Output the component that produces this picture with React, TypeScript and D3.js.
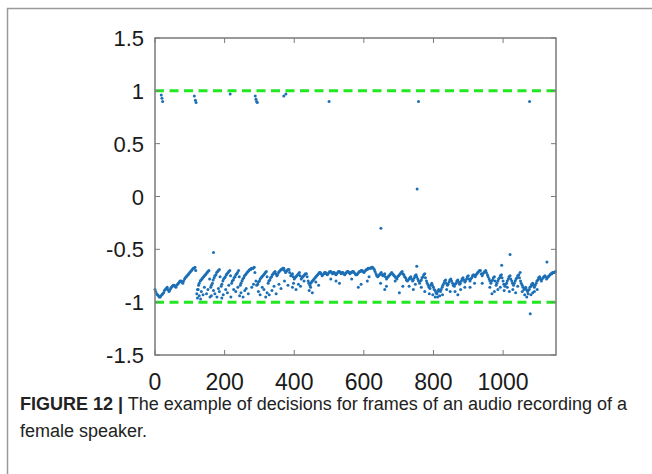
import React from "react";
import * as d3 from "d3";

// decision values of the main band, one every 5 frames (frames 0..1150)
const bandStep = 5;
const bandValues = [
  -0.88, -0.92, -0.94, -0.95, -0.93, -0.91, -0.88, -0.86, -0.9, -0.87, -0.85, -0.84, -0.86, -0.83, -0.81, -0.8, -0.82, -0.78, -0.76, -0.74, -0.72, -0.7, -0.68, -0.67,
  -0.92, -0.84, -0.8, -0.78, -0.76, -0.74, -0.72, -0.7, -0.86, -0.82, -0.77, -0.74, -0.71, -0.69, -0.85, -0.8,
  -0.77, -0.74, -0.72, -0.7, -0.82, -0.79, -0.76, -0.73, -0.7, -0.84, -0.8, -0.77, -0.74, -0.72, -0.7, -0.69, -0.68, -0.67, -0.8, -0.83,
  -0.8, -0.77, -0.75, -0.73, -0.71, -0.82, -0.79, -0.76, -0.73, -0.71, -0.75, -0.72, -0.7, -0.69, -0.68, -0.72, -0.7, -0.69, -0.75, -0.73,
  -0.78, -0.76, -0.74, -0.72, -0.78, -0.76, -0.74, -0.73, -0.8, -0.84, -0.81, -0.79, -0.77, -0.75, -0.73, -0.72, -0.75, -0.73, -0.72, -0.74,
  -0.72, -0.71, -0.73, -0.72, -0.74, -0.72, -0.71, -0.73, -0.72, -0.74, -0.72, -0.71, -0.73, -0.72, -0.71, -0.73, -0.74, -0.72, -0.71, -0.7,
  -0.72, -0.7, -0.69, -0.68, -0.68, -0.67, -0.69, -0.73, -0.76, -0.74, -0.72, -0.75, -0.73, -0.78, -0.76, -0.74, -0.72, -0.74, -0.76, -0.78,
  -0.75, -0.73, -0.71, -0.74, -0.77, -0.8, -0.78, -0.76, -0.8, -0.77, -0.74, -0.78, -0.82, -0.79, -0.76, -0.73, -0.8, -0.84, -0.87, -0.82,
  -0.86, -0.89, -0.92, -0.88, -0.9, -0.86, -0.82, -0.79, -0.84, -0.81, -0.78, -0.82, -0.85, -0.82, -0.79, -0.83, -0.8, -0.77, -0.81, -0.78,
  -0.75, -0.8, -0.77, -0.74, -0.76, -0.73, -0.71, -0.7, -0.75, -0.72, -0.7, -0.74, -0.78, -0.82, -0.79, -0.76, -0.84, -0.8, -0.77, -0.74,
  -0.8, -0.85, -0.82, -0.78, -0.75, -0.8, -0.84, -0.8, -0.77, -0.74, -0.8, -0.84, -0.88, -0.86, -0.9, -0.88, -0.85, -0.82, -0.86, -0.82,
  -0.79, -0.76, -0.8, -0.77, -0.75, -0.78, -0.76, -0.74, -0.73, -0.72, -0.71,
];

// second reading of the band, frames 2, 7, 12 ... 1147
const bandOffset2 = 2;
const bandValues2 = [
  -0.9, -0.93, -0.95, -0.94, -0.92, -0.89, -0.87, -0.88, -0.89, -0.86, -0.84, -0.85, -0.84, -0.82, -0.8, -0.81, -0.8, -0.77, -0.75, -0.73, -0.71, -0.69, -0.68, -0.7,
  -0.88, -0.82, -0.79, -0.77, -0.75, -0.73, -0.71, -0.78, -0.84, -0.79, -0.75, -0.72, -0.7, -0.76, -0.83, -0.78,
  -0.76, -0.73, -0.71, -0.75, -0.8, -0.77, -0.74, -0.72, -0.76, -0.82, -0.78, -0.75, -0.73, -0.71, -0.69, -0.68, -0.68, -0.72, -0.84, -0.81,
  -0.78, -0.76, -0.74, -0.72, -0.76, -0.8, -0.77, -0.74, -0.72, -0.73, -0.74, -0.71, -0.69, -0.68, -0.7, -0.71, -0.69, -0.72, -0.74, -0.76,
  -0.77, -0.75, -0.73, -0.75, -0.77, -0.75, -0.73, -0.76, -0.82, -0.82, -0.8, -0.78, -0.76, -0.74, -0.72, -0.73, -0.74, -0.72, -0.73, -0.73,
  -0.71, -0.72, -0.72, -0.73, -0.73, -0.71, -0.72, -0.72, -0.73, -0.73, -0.71, -0.72, -0.72, -0.71, -0.72, -0.74, -0.73, -0.71, -0.7, -0.71,
  -0.71, -0.69, -0.68, -0.68, -0.67, -0.68, -0.71, -0.75, -0.75, -0.73, -0.74, -0.74, -0.76, -0.77, -0.75, -0.73, -0.73, -0.75, -0.77, -0.76,
  -0.74, -0.72, -0.73, -0.76, -0.79, -0.79, -0.77, -0.78, -0.79, -0.75, -0.76, -0.8, -0.8, -0.77, -0.74, -0.77, -0.82, -0.86, -0.84, -0.84,
  -0.88, -0.91, -0.9, -0.89, -0.88, -0.84, -0.8, -0.82, -0.83, -0.79, -0.8, -0.84, -0.83, -0.8, -0.81, -0.82, -0.78, -0.79, -0.8, -0.76,
  -0.78, -0.78, -0.75, -0.75, -0.74, -0.72, -0.7, -0.73, -0.73, -0.71, -0.72, -0.76, -0.8, -0.8, -0.77, -0.8, -0.82, -0.78, -0.75, -0.77,
  -0.83, -0.83, -0.8, -0.76, -0.78, -0.82, -0.82, -0.78, -0.75, -0.77, -0.82, -0.86, -0.87, -0.88, -0.89, -0.86, -0.83, -0.84, -0.84, -0.8,
  -0.77, -0.78, -0.78, -0.76, -0.76, -0.77, -0.75, -0.73, -0.72, -0.72,
];

// scattered points below the band [frame, value]
const lowSpray: [number, number][] = [
  [122, -0.96], [124, -0.88], [127, -0.94], [133, -0.9], [142, -0.86], [148, -0.92], [162, -0.94], [168, -0.89],
  [178, -0.95], [185, -0.9], [196, -0.93], [203, -0.88], [212, -0.84], [226, -0.88], [238, -0.86], [247, -0.91],
  [253, -0.95], [262, -0.87], [283, -0.83], [297, -0.9], [308, -0.86], [322, -0.91], [328, -0.93], [342, -0.85],
  [356, -0.83], [372, -0.8], [395, -0.86], [398, -0.82], [412, -0.83], [443, -0.89], [447, -0.86], [462, -0.81],
  [505, -0.78], [520, -0.8], [565, -0.78], [584, -0.86], [592, -0.83], [615, -0.76], [648, -0.82], [660, -0.88],
  [690, -0.8], [702, -0.91], [730, -0.85], [742, -0.88], [765, -0.86], [788, -0.92], [798, -0.93], [812, -0.95],
  [818, -0.94], [838, -0.88], [862, -0.9], [878, -0.88], [905, -0.86], [918, -0.82], [962, -0.86], [975, -0.9],
  [985, -0.88], [1003, -0.89], [1012, -0.86], [1028, -0.88], [1042, -0.85], [1062, -0.93], [1068, -0.95],
  [1072, -0.92], [1090, -0.9], [1098, -0.88],
  [131, -0.97], [138, -0.93], [152, -0.88], [158, -0.95], [172, -0.92], [182, -0.87], [192, -0.96], [208, -0.91],
  [218, -0.95], [232, -0.9], [243, -0.94], [258, -0.89], [268, -0.92], [278, -0.86], [302, -0.93], [313, -0.88],
  [318, -0.95], [336, -0.89], [348, -0.92], [362, -0.87], [382, -0.84], [405, -0.88], [418, -0.85], [428, -0.8],
  [452, -0.91], [470, -0.84], [530, -0.82], [610, -0.8], [665, -0.85], [712, -0.85], [748, -0.83], [775, -0.9],
  [805, -0.95], [826, -0.93], [848, -0.9], [870, -0.93], [890, -0.86], [940, -0.82], [968, -0.92], [992, -0.86],
  [1018, -0.9], [1036, -0.91], [1055, -0.9], [1080, -0.93], [1085, -0.91],
];

// isolated decisions near +1 and in between [frame, value]
const outliers: [number, number][] = [
  [18, 0.96], [20, 0.93], [22, 0.9], [113, 0.95], [116, 0.91], [118, 0.89], [216, 0.97], [288, 0.95],
  [290, 0.92], [292, 0.9], [294, 0.89], [370, 0.95], [376, 0.97], [500, 0.9], [757, 0.9], [1076, 0.9],
  [753, 0.07], [649, -0.3], [168, -0.53], [752, -0.66], [996, -0.65], [1020, -0.55], [1049, -0.72],
  [1078, -1.11], [1126, -0.62],
];

const thresholds = [1, -1];
const xTicks = [0, 200, 400, 600, 800, 1000];
const yTicks = [-1.5, -1, -0.5, 0, 0.5, 1, 1.5];
const captionBold = "FIGURE 12 |";
const captionLine1 = " The example of decisions for frames of an audio recording of a";
const captionLine2 = "female speaker.";

const W = 652;
const H = 474;
const plot = { left: 155, right: 556, top: 38, bottom: 355 };
const axisColor = "#7a7a7a";
const font = "'Liberation Sans', Arial, Helvetica, sans-serif";

export default function App() {
  const x = d3.scaleLinear().domain([0, 1152]).range([plot.left, plot.right]);
  const y = d3.scaleLinear().domain([-1.5, 1.5]).range([plot.bottom, plot.top]);

  const points: [number, number][] = [
    ...bandValues.map((v, i) => [i * bandStep, v] as [number, number]),
    ...bandValues2.map((v, i) => [bandOffset2 + i * bandStep, v] as [number, number]),
    ...lowSpray,
    ...outliers,
  ];

  return (
    <svg width={W} height={H} style={{ position: "absolute", left: 0, top: 0, background: "#fff" }}>
      <rect x={7.5} y={8.5} width={W + 20} height={H + 20} fill="none" stroke="#9a9a9a" strokeWidth={1.5} />

      {/* dots */}
      <g fill="#1c6fb5">
        {points.map(([f, v], i) => (
          <circle key={i} cx={x(f)} cy={y(v)} r={1.5} />
        ))}
      </g>

      {/* thresholds */}
      {thresholds.map((t) => (
        <line key={t} x1={x(0)} x2={plot.right} y1={y(t)} y2={y(t)} stroke="#22e822" strokeWidth={3} strokeDasharray="9 5.5" />
      ))}

      {/* box */}
      <rect x={plot.left} y={plot.top} width={plot.right - plot.left} height={plot.bottom - plot.top} fill="none" stroke={axisColor} strokeWidth={1.5} />
      {xTicks.map((t) => (
        <g key={t}>
          <line x1={x(t)} x2={x(t)} y1={plot.bottom} y2={plot.bottom - 5} stroke={axisColor} />
          <line x1={x(t)} x2={x(t)} y1={plot.top} y2={plot.top + 5} stroke={axisColor} />
          <text x={x(t)} y={390} textAnchor="middle" fontFamily={font} fontSize={23} fill="#1a1a1a">
            {t}
          </text>
        </g>
      ))}
      {yTicks.map((t) => (
        <g key={t}>
          <line x1={plot.left} x2={plot.left + 5} y1={y(t)} y2={y(t)} stroke={axisColor} />
          <line x1={plot.right} x2={plot.right - 5} y1={y(t)} y2={y(t)} stroke={axisColor} />
          <text x={144} y={y(t) + 8} textAnchor="end" fontFamily={font} fontSize={22} fill="#1a1a1a">
            {t}
          </text>
        </g>
      ))}

      {/* caption */}
      <text x={20} y={410} fontFamily={font} fontSize={18} fill="#222">
        <tspan fontWeight="bold">{captionBold}</tspan>
        <tspan>{captionLine1}</tspan>
      </text>
      <text x={20} y={437} fontFamily={font} fontSize={18} fill="#222">
        {captionLine2}
      </text>
    </svg>
  );
}
